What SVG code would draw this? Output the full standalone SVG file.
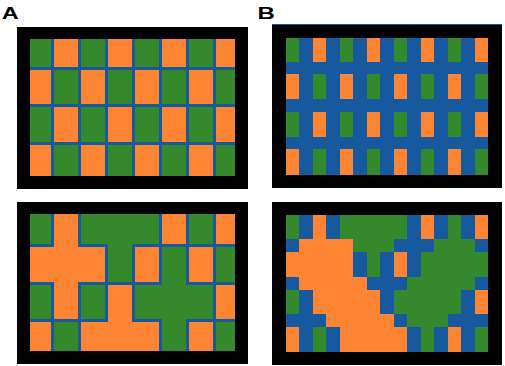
<svg xmlns="http://www.w3.org/2000/svg" width="505" height="366" viewBox="0 0 505 366">
<style>
.frame{fill:#000}
.g{fill:#35882b}
.o{fill:#fd8432}
.b{fill:#17599f}
.lbl{font-family:"Liberation Sans",Arial,sans-serif;font-weight:bold;font-size:17px;fill:#000}
.px{shape-rendering:crispEdges}
</style>
<rect width="505" height="366" fill="#fff"/>
<g id="label-A"><text class="lbl" transform="translate(1.7,19.2) scale(1.38,1)">A</text></g>
<g id="label-B"><text class="lbl" transform="translate(257.4,18.6) scale(1.42,1)">B</text></g>

<g id="panel-A-top" class="px">
<rect class="frame" x="17.3" y="26.7" width="231" height="162.6"/>
<rect class="g" x="30" y="39" width="205" height="137"/>
<rect class="o" x="52" y="39" width="27" height="29"/>
<rect class="o" x="106" y="39" width="27" height="29"/>
<rect class="o" x="160" y="39" width="27" height="29"/>
<rect class="o" x="214" y="39" width="21" height="29"/>
<rect class="o" x="30" y="68" width="22" height="37"/>
<rect class="o" x="79" y="68" width="27" height="37"/>
<rect class="o" x="133" y="68" width="27" height="37"/>
<rect class="o" x="187" y="68" width="27" height="37"/>
<rect class="o" x="52" y="105" width="27" height="38"/>
<rect class="o" x="106" y="105" width="27" height="38"/>
<rect class="o" x="160" y="105" width="27" height="38"/>
<rect class="o" x="214" y="105" width="21" height="38"/>
<rect class="o" x="30" y="143" width="22" height="33"/>
<rect class="o" x="79" y="143" width="27" height="33"/>
<rect class="o" x="133" y="143" width="27" height="33"/>
<rect class="o" x="187" y="143" width="27" height="33"/>
<path class="b" d="M51 39h3v137h-3zM78 39h3v137h-3zM105 39h3v137h-3zM132 39h3v137h-3zM159 39h3v137h-3zM186 39h3v137h-3zM213 39h3v137h-3zM30 67h205v3h-205zM30 104h205v3h-205zM30 142h205v3h-205z"/>
</g>

<g id="panel-A-bottom" class="px">
<rect class="frame" x="16.7" y="201.7" width="231.6" height="162.5"/>
<rect class="g" x="30" y="214" width="205" height="137.3"/>
<rect class="o" x="52" y="214" width="27" height="31"/>
<rect class="o" x="160" y="214" width="27" height="31"/>
<rect class="o" x="214" y="214" width="21" height="31"/>
<rect class="o" x="30" y="245" width="76" height="38"/>
<rect class="o" x="133" y="245" width="27" height="38"/>
<rect class="o" x="187" y="245" width="27" height="38"/>
<rect class="o" x="52" y="283" width="27" height="37"/>
<rect class="o" x="106" y="283" width="27" height="37"/>
<rect class="o" x="214" y="283" width="21" height="37"/>
<rect class="o" x="30" y="320" width="22" height="31.3"/>
<rect class="o" x="79" y="320" width="81" height="31.3"/>
<rect class="o" x="187" y="320" width="27" height="31.3"/>
<path class="b" d="M51 214h3v33h-3zM51 282h3v69.3h-3zM78 214h3v33h-3zM78 282h3v69.3h-3zM105 244h3v78h-3zM132 244h3v78h-3zM159 214h3v71h-3zM159 319h3v32.3h-3zM186 214h3v71h-3zM186 319h3v32.3h-3zM213 214h3v137.3h-3zM30 244h24v3h-24zM78 244h30v3h-30zM132 244h103v3h-103zM30 282h24v3h-24zM78 282h84v3h-84zM186 282h49v3h-49zM30 319h78v3h-78zM132 319h30v3h-30zM186 319h49v3h-49z"/>
</g>

<g id="panel-B-top" class="px">
<rect class="frame" x="272" y="24" width="229.7" height="164.3"/>
<rect class="b" x="272" y="23.6" width="229.7" height="1.2"/>
<rect class="b" x="285.7" y="38.3" width="202.7" height="136.7"/>
<rect class="g" x="285.7" y="38.3" width="13.5" height="23.4"/>
<rect class="o" x="312.7" y="38.3" width="13.5" height="23.4"/>
<rect class="g" x="339.7" y="38.3" width="13.5" height="23.4"/>
<rect class="o" x="366.8" y="38.3" width="13.5" height="23.4"/>
<rect class="g" x="393.8" y="38.3" width="13.5" height="23.4"/>
<rect class="o" x="420.8" y="38.3" width="13.5" height="23.4"/>
<rect class="g" x="447.8" y="38.3" width="13.5" height="23.4"/>
<rect class="o" x="474.8" y="38.3" width="13.6" height="23.4"/>
<rect class="o" x="285.7" y="74" width="13.5" height="25.3"/>
<rect class="g" x="312.7" y="74" width="13.5" height="25.3"/>
<rect class="o" x="339.7" y="74" width="13.5" height="25.3"/>
<rect class="g" x="366.8" y="74" width="13.5" height="25.3"/>
<rect class="o" x="393.8" y="74" width="13.5" height="25.3"/>
<rect class="g" x="420.8" y="74" width="13.5" height="25.3"/>
<rect class="o" x="447.8" y="74" width="13.5" height="25.3"/>
<rect class="g" x="474.8" y="74" width="13.6" height="25.3"/>
<rect class="g" x="285.7" y="111.7" width="13.5" height="25"/>
<rect class="o" x="312.7" y="111.7" width="13.5" height="25"/>
<rect class="g" x="339.7" y="111.7" width="13.5" height="25"/>
<rect class="o" x="366.8" y="111.7" width="13.5" height="25"/>
<rect class="g" x="393.8" y="111.7" width="13.5" height="25"/>
<rect class="o" x="420.8" y="111.7" width="13.5" height="25"/>
<rect class="g" x="447.8" y="111.7" width="13.5" height="25"/>
<rect class="o" x="474.8" y="111.7" width="13.6" height="25"/>
<rect class="o" x="285.7" y="149.3" width="13.5" height="25.7"/>
<rect class="g" x="312.7" y="149.3" width="13.5" height="25.7"/>
<rect class="o" x="339.7" y="149.3" width="13.5" height="25.7"/>
<rect class="g" x="366.8" y="149.3" width="13.5" height="25.7"/>
<rect class="o" x="393.8" y="149.3" width="13.5" height="25.7"/>
<rect class="g" x="420.8" y="149.3" width="13.5" height="25.7"/>
<rect class="o" x="447.8" y="149.3" width="13.5" height="25.7"/>
<rect class="g" x="474.8" y="149.3" width="13.6" height="25.7"/>
</g>

<g id="panel-B-bottom" class="px">
<rect class="frame" x="272" y="201.7" width="229.7" height="162.8"/>
<rect class="b" x="285.7" y="214.8" width="202.7" height="136.7"/>
<rect class="g" x="285.7" y="214.8" width="13.5" height="23.7"/>
<rect class="o" x="312.7" y="214.8" width="13.5" height="23.7"/>
<rect class="g" x="339.7" y="214.8" width="67.6" height="23.7"/>
<rect class="o" x="420.8" y="214.8" width="13.5" height="23.7"/>
<rect class="g" x="447.8" y="214.8" width="13.5" height="23.7"/>
<rect class="o" x="474.8" y="214.8" width="13.6" height="23.7"/>
<rect class="o" x="299.2" y="238.5" width="54.1" height="13.3"/>
<rect class="g" x="353.3" y="238.5" width="40.5" height="13.3"/>
<rect class="g" x="434.3" y="238.5" width="40.5" height="13.3"/>
<rect class="o" x="285.7" y="251.8" width="67.6" height="25"/>
<rect class="g" x="366.8" y="251.8" width="13.5" height="25"/>
<rect class="o" x="393.8" y="251.8" width="13.5" height="25"/>
<rect class="g" x="420.8" y="251.8" width="67.6" height="25"/>
<rect class="o" x="299.2" y="276.8" width="67.6" height="13.4"/>
<rect class="g" x="407.3" y="276.8" width="67.5" height="13.4"/>
<rect class="g" x="285.7" y="290.2" width="13.5" height="24.1"/>
<rect class="o" x="312.7" y="290.2" width="67.6" height="24.1"/>
<rect class="g" x="393.8" y="290.2" width="67.5" height="24.1"/>
<rect class="o" x="474.8" y="290.2" width="13.6" height="24.1"/>
<rect class="o" x="326.2" y="314.3" width="67.6" height="12.5"/>
<rect class="g" x="407.3" y="314.3" width="40.5" height="12.5"/>
<rect class="o" x="285.7" y="326.8" width="13.5" height="24.7"/>
<rect class="g" x="312.7" y="326.8" width="13.5" height="24.7"/>
<rect class="o" x="339.7" y="326.8" width="67.6" height="24.7"/>
<rect class="g" x="420.8" y="326.8" width="13.5" height="24.7"/>
<rect class="o" x="447.8" y="326.8" width="13.5" height="24.7"/>
<rect class="g" x="474.8" y="326.8" width="13.6" height="24.7"/>
</g>
</svg>
